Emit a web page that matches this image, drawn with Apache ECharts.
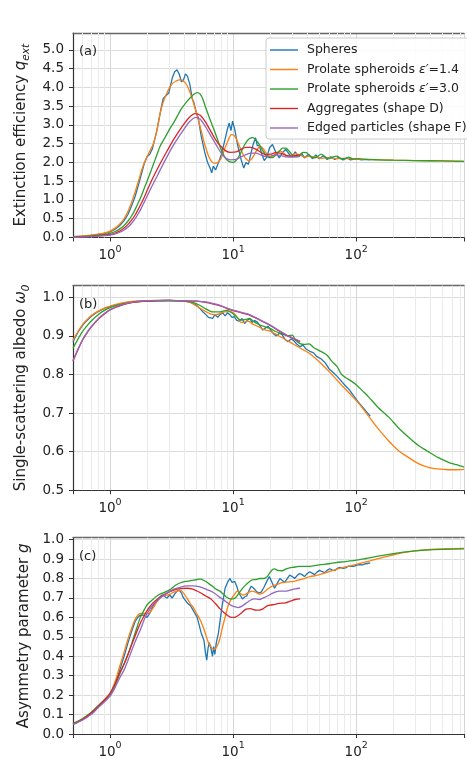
<!DOCTYPE html>
<html>
<head>
<meta charset="utf-8">
<script src="https://cdn.jsdelivr.net/npm/echarts@6/dist/echarts.min.js"></script>
<style>
  html, body { margin: 0; padding: 0; background: #fff; }
  #chart { width: 467px; height: 759px; }
</style>
</head>
<body>
<div id="chart"></div>
<script>
// series names / colours (matplotlib tab10)
const seriesNames = ['Spheres', 'Prolate spheroids ε′=1.4', 'Prolate spheroids ε′=3.0', 'Aggregates (shape D)', 'Edged particles (shape F)'];
const seriesColors = ['#1f77b4', '#ff7f0e', '#2ca02c', '#d62728', '#9467bd'];
const minorX = [0.6, 0.7, 0.8, 0.9, 2, 3, 4, 5, 6, 7, 8, 9, 20, 30, 40, 50, 60, 70, 80, 90, 200, 300, 400, 500, 600, 700];
const panelLetters = ['(a)', '(b)', '(c)'];

// (a) extinction efficiency
const qextSpheres = [[0.5,0.02],[0.6,0.035],[0.7,0.055],[0.8,0.08],[0.9,0.11],[1.0,0.15],[1.1,0.22],[1.2,0.32],[1.3,0.45],[1.4,0.62],[1.5,0.85],[1.6,1.1],[1.7,1.4],[1.8,1.7],[1.9,1.98],[2.0,2.15],[2.1,2.22],[2.2,2.35],[2.3,2.6],[2.4,2.85],[2.5,3.15],[2.6,3.45],[2.7,3.7],[2.8,3.76],[2.9,3.74],[3.0,3.85],[3.1,4.05],[3.2,4.25],[3.35,4.42],[3.5,4.47],[3.65,4.35],[3.8,4.15],[3.95,4.2],[4.1,4.36],[4.25,4.3],[4.45,4.08],[4.65,3.7],[4.8,3.6],[5.0,3.35],[5.2,3.2],[5.5,2.7],[5.9,2.25],[6.2,2.0],[6.5,1.85],[6.7,1.72],[6.9,1.9],[7.2,1.8],[7.6,2.0],[8.0,2.2],[8.5,2.55],[9.0,2.9],[9.3,3.05],[9.6,2.85],[9.9,3.1],[10.3,2.88],[10.9,2.45],[11.6,2.08],[12.2,1.85],[12.7,2.0],[13.3,1.95],[14.0,2.26],[14.6,2.5],[15.2,2.66],[15.7,2.45],[16.3,2.45],[17.2,2.2],[17.9,2.05],[18.8,2.15],[19.8,2.4],[20.9,2.48],[22.0,2.3],[23.7,2.12],[25.0,2.25],[26.8,2.35],[28.5,2.22],[30,2.15],[32,2.28],[34,2.15],[36,2.25],[38,2.12],[41,2.22],[44,2.1],[47,2.2],[50,2.1],[54,2.18],[58,2.08],[62,2.15],[67,2.08],[72,2.14],[78,2.07],[84,2.12],[90,2.07],[100,2.1],[110,2.07],[120,2.08],[130,2.07]];
const qextProlate14 = [[0.5,0.02],[0.6,0.04],[0.7,0.06],[0.8,0.09],[0.9,0.12],[1.0,0.17],[1.1,0.25],[1.2,0.36],[1.3,0.5],[1.4,0.7],[1.5,0.95],[1.6,1.22],[1.7,1.5],[1.8,1.78],[1.9,2.0],[2.0,2.15],[2.1,2.3],[2.25,2.5],[2.4,2.85],[2.55,3.3],[2.7,3.6],[2.85,3.8],[3.05,4.0],[3.25,4.12],[3.45,4.17],[3.65,4.2],[3.82,4.2],[4.0,4.15],[4.2,4.07],[4.4,3.92],[4.6,3.75],[4.8,3.55],[5.05,3.3],[5.3,3.05],[5.55,2.8],[5.8,2.55],[6.07,2.33],[6.35,2.15],[6.67,2.03],[7.0,1.98],[7.3,1.98],[7.6,2.02],[7.9,2.08],[8.3,2.25],[8.7,2.43],[9.2,2.62],[9.66,2.74],[10.1,2.73],[10.6,2.63],[11.1,2.48],[11.6,2.33],[12.1,2.2],[12.7,2.1],[13.3,2.05],[14.0,2.08],[14.7,2.18],[15.4,2.3],[16.1,2.4],[16.8,2.42],[17.6,2.36],[18.4,2.27],[19.3,2.18],[20.2,2.15],[21.5,2.2],[22.8,2.27],[24.2,2.3],[25.7,2.25],[27.5,2.17],[29.5,2.17],[32,2.23],[35,2.2],[38,2.14],[42,2.17],[47,2.14],[53,2.11],[60,2.13],[70,2.1],[80,2.11],[100,2.09],[130,2.08],[200,2.06],[300,2.05],[500,2.04],[751,2.03]];
const qextProlate30 = [[0.5,0.015],[0.6,0.025],[0.7,0.04],[0.8,0.06],[0.9,0.08],[1.0,0.11],[1.1,0.16],[1.2,0.23],[1.3,0.32],[1.4,0.44],[1.5,0.58],[1.6,0.75],[1.7,0.93],[1.8,1.12],[1.9,1.32],[2.0,1.5],[2.12,1.72],[2.25,1.95],[2.4,2.2],[2.55,2.43],[2.7,2.58],[2.9,2.76],[3.1,2.93],[3.3,3.07],[3.5,3.22],[3.75,3.4],[4.0,3.53],[4.2,3.62],[4.5,3.73],[4.8,3.82],[5.1,3.86],[5.4,3.82],[5.7,3.67],[6.0,3.45],[6.4,3.2],[6.9,2.92],[7.4,2.65],[7.8,2.43],[8.2,2.26],[8.7,2.1],[9.3,2.02],[10,2.0],[10.6,2.06],[11.3,2.2],[12.0,2.38],[12.7,2.53],[13.5,2.63],[14.4,2.66],[15.3,2.6],[16.3,2.48],[17.3,2.33],[18.4,2.2],[19.6,2.13],[20.9,2.13],[22.2,2.2],[23.7,2.3],[25.2,2.38],[26.8,2.38],[28.5,2.3],[30.3,2.2],[32.3,2.15],[34.5,2.18],[37,2.27],[39.5,2.26],[42,2.17],[45,2.12],[48,2.15],[52,2.22],[56,2.15],[60,2.1],[65,2.15],[70,2.17],[75,2.1],[81,2.1],[87,2.14],[95,2.09],[105,2.1],[120,2.08],[150,2.07],[200,2.06],[300,2.05],[500,2.04],[751,2.03]];
const qextAggregates = [[0.5,0.012],[0.6,0.02],[0.7,0.03],[0.8,0.045],[0.9,0.06],[1.0,0.08],[1.1,0.12],[1.2,0.17],[1.3,0.25],[1.4,0.35],[1.5,0.47],[1.6,0.6],[1.7,0.76],[1.8,0.92],[1.9,1.08],[2.0,1.25],[2.2,1.55],[2.4,1.8],[2.6,2.02],[2.9,2.3],[3.3,2.62],[3.9,2.98],[4.4,3.2],[4.9,3.3],[5.4,3.26],[5.9,3.1],[6.4,2.9],[6.9,2.71],[7.4,2.55],[8.0,2.42],[8.7,2.31],[9.5,2.27],[10.6,2.28],[11.6,2.35],[12.7,2.4],[13.9,2.4],[15.4,2.35],[16.8,2.27],[18.4,2.21],[20.2,2.22],[22,2.26],[24.2,2.25],[26.8,2.19],[30,2.17],[35,2.2]];
const qextEdged = [[0.5,0.01],[0.6,0.015],[0.7,0.025],[0.8,0.035],[0.9,0.05],[1.0,0.065],[1.1,0.095],[1.2,0.14],[1.3,0.2],[1.4,0.28],[1.5,0.38],[1.6,0.5],[1.7,0.64],[1.8,0.79],[1.9,0.95],[2.0,1.1],[2.2,1.38],[2.4,1.62],[2.6,1.85],[2.9,2.15],[3.3,2.48],[3.9,2.84],[4.4,3.08],[5.0,3.2],[5.4,3.15],[5.9,2.98],[6.4,2.78],[6.9,2.6],[7.4,2.43],[8.0,2.25],[8.7,2.12],[9.5,2.07],[10.6,2.08],[11.6,2.15],[12.7,2.21],[13.9,2.25],[15.4,2.25],[16.8,2.2],[18.4,2.16],[20.2,2.17],[22,2.2],[24.2,2.19],[26.8,2.15],[30,2.14],[35,2.16]];

// (b) single-scattering albedo
const albSpheres = [[0.5,0.885],[0.55,0.91],[0.6,0.928],[0.65,0.94],[0.7,0.95],[0.8,0.963],[0.9,0.971],[1.0,0.976],[1.2,0.983],[1.5,0.988],[2,0.991],[3,0.992],[4,0.99],[4.5,0.987],[5.0,0.98],[5.4,0.97],[5.7,0.962],[6.0,0.955],[6.3,0.948],[6.5,0.952],[6.8,0.945],[7.1,0.955],[7.5,0.948],[7.8,0.955],[8.2,0.96],[8.6,0.952],[9.0,0.96],[9.4,0.955],[9.8,0.948],[10.2,0.95],[10.7,0.94],[11.2,0.938],[11.8,0.945],[12.4,0.932],[13,0.94],[13.6,0.945],[14.3,0.935],[15,0.94],[15.8,0.935],[16.6,0.925],[17.4,0.915],[18.2,0.92],[19.2,0.925],[20.2,0.915],[21.3,0.905],[22.5,0.9],[23.7,0.907],[25,0.903],[26.5,0.89],[28,0.885],[29.5,0.892],[31,0.888],[33,0.878],[35,0.872],[37,0.876],[39,0.866],[42,0.86],[45,0.856],[48,0.846],[52,0.84],[56,0.83],[60,0.815],[65,0.805],[70,0.795],[76,0.782],[82,0.77],[88,0.76],[95,0.745],[103,0.73],[111,0.718],[120,0.705],[130,0.692]];
const albProlate14 = [[0.5,0.889],[0.55,0.912],[0.6,0.93],[0.65,0.942],[0.7,0.952],[0.8,0.964],[0.9,0.972],[1.0,0.977],[1.2,0.984],[1.5,0.989],[2,0.991],[3,0.992],[4,0.99],[4.5,0.987],[5.0,0.978],[5.7,0.967],[6.5,0.957],[7.2,0.955],[7.8,0.958],[8.5,0.962],[9.4,0.963],[10.2,0.958],[11,0.945],[11.5,0.935],[12.2,0.935],[13,0.938],[13.6,0.937],[14.5,0.93],[16.1,0.924],[17.5,0.917],[19.7,0.913],[22,0.905],[25,0.895],[28.5,0.885],[33,0.873],[37,0.864],[41.5,0.855],[50,0.833],[60,0.808],[70,0.785],[80,0.765],[90,0.748],[105,0.725],[126,0.692],[150,0.66],[183,0.628],[220,0.603],[265,0.585],[320,0.569],[385,0.559],[460,0.555],[557,0.553],[650,0.553],[751,0.554]];
const albProlate30 = [[0.5,0.868],[0.55,0.892],[0.6,0.912],[0.65,0.926],[0.7,0.938],[0.8,0.955],[0.9,0.966],[1.0,0.973],[1.2,0.981],[1.5,0.987],[2,0.99],[3,0.991],[4,0.99],[4.7,0.987],[5.3,0.98],[6.0,0.97],[6.8,0.962],[7.8,0.962],[8.8,0.966],[9.4,0.963],[10.2,0.955],[11,0.945],[11.5,0.941],[12.5,0.942],[13.6,0.945],[15,0.935],[16.1,0.93],[17.5,0.925],[19.7,0.92],[22,0.912],[25,0.905],[28,0.9],[30.3,0.902],[32,0.89],[35,0.88],[38,0.878],[41.5,0.879],[45,0.87],[52,0.859],[58,0.85],[63,0.835],[70,0.82],[76,0.8],[82,0.792],[92,0.782],[101,0.772],[112,0.758],[126,0.742],[150,0.715],[183,0.69],[220,0.662],[265,0.638],[320,0.616],[385,0.6],[460,0.585],[557,0.573],[650,0.566],[751,0.56]];
const albAggregates = [[0.5,0.835],[0.55,0.865],[0.6,0.89],[0.65,0.908],[0.7,0.922],[0.8,0.943],[0.9,0.957],[1.0,0.967],[1.2,0.978],[1.5,0.986],[2,0.99],[3,0.992],[4,0.991],[5,0.99],[6,0.987],[7,0.982],[8,0.977],[9.4,0.968],[11,0.962],[13.6,0.954],[16,0.943],[19.7,0.928],[23,0.915],[28.5,0.898],[35,0.885]];
const albEdged = [[0.5,0.836],[0.55,0.866],[0.6,0.891],[0.65,0.909],[0.7,0.923],[0.8,0.944],[0.9,0.958],[1.0,0.968],[1.2,0.979],[1.5,0.987],[2,0.991],[3,0.992],[4,0.991],[5,0.99],[6,0.988],[7,0.983],[8,0.978],[9.4,0.969],[11,0.963],[13.6,0.955],[16,0.944],[19.7,0.929],[23,0.916],[28.5,0.899],[35,0.886]];

// (c) asymmetry parameter
const gSpheres = [[0.5,0.05],[0.6,0.075],[0.7,0.105],[0.8,0.14],[0.9,0.17],[1.0,0.2],[1.1,0.26],[1.2,0.33],[1.3,0.4],[1.4,0.47],[1.5,0.53],[1.6,0.58],[1.7,0.605],[1.8,0.613],[1.9,0.61],[2.0,0.6],[2.1,0.62],[2.2,0.65],[2.35,0.68],[2.5,0.7],[2.65,0.715],[2.75,0.705],[2.9,0.7],[3.05,0.715],[3.2,0.7],[3.35,0.72],[3.5,0.735],[3.65,0.74],[3.8,0.725],[3.95,0.7],[4.1,0.69],[4.3,0.67],[4.5,0.66],[4.7,0.64],[4.9,0.62],[5.1,0.6],[5.3,0.56],[5.5,0.52],[5.65,0.5],[5.8,0.48],[5.95,0.42],[6.1,0.38],[6.25,0.44],[6.4,0.47],[6.6,0.44],[6.8,0.4],[6.95,0.45],[7.1,0.41],[7.3,0.47],[7.6,0.52],[7.9,0.6],[8.1,0.65],[8.4,0.71],[8.6,0.75],[9.0,0.78],[9.4,0.8],[9.8,0.78],[10.3,0.785],[10.7,0.76],[11.0,0.735],[11.5,0.71],[11.9,0.695],[12.4,0.705],[12.9,0.71],[13.4,0.735],[14.0,0.76],[14.7,0.75],[15.4,0.735],[16.1,0.725],[16.9,0.73],[17.8,0.755],[18.6,0.78],[19.7,0.81],[20.7,0.78],[21.7,0.75],[22.8,0.775],[24,0.8],[25.1,0.79],[26.2,0.78],[27.5,0.8],[28.8,0.818],[30.2,0.81],[31.6,0.8],[33.1,0.815],[34.7,0.826],[36.3,0.82],[38,0.81],[39.9,0.825],[41.8,0.835],[43.8,0.828],[45.9,0.82],[48,0.833],[50.5,0.842],[53,0.835],[55.5,0.83],[58,0.842],[61,0.85],[64,0.843],[67,0.84],[70,0.852],[74,0.857],[78,0.852],[82,0.855],[86,0.863],[90,0.862],[95,0.863],[100,0.868],[106,0.872],[112,0.87],[120,0.876],[130,0.88]];
const gProlate14 = [[0.5,0.05],[0.6,0.077],[0.7,0.108],[0.8,0.143],[0.9,0.175],[1.0,0.205],[1.1,0.27],[1.2,0.35],[1.3,0.42],[1.4,0.49],[1.5,0.545],[1.6,0.59],[1.7,0.615],[1.8,0.62],[1.9,0.62],[2.0,0.618],[2.1,0.625],[2.25,0.65],[2.4,0.68],[2.55,0.7],[2.7,0.71],[2.9,0.715],[3.1,0.72],[3.3,0.73],[3.5,0.735],[3.7,0.74],[3.9,0.73],[4.2,0.7],[4.5,0.67],[4.7,0.655],[5.0,0.625],[5.37,0.59],[5.7,0.55],[6.0,0.51],[6.3,0.47],[6.6,0.45],[6.9,0.435],[7.2,0.44],[7.5,0.46],[7.8,0.49],[8.2,0.55],[8.6,0.6],[9.0,0.65],[9.4,0.68],[9.8,0.7],[10.3,0.72],[10.8,0.735],[11.3,0.725],[12,0.715],[12.7,0.72],[13.5,0.73],[14.3,0.735],[15.2,0.73],[16.3,0.72],[17.4,0.725],[18.6,0.74],[20,0.755],[21.5,0.765],[23,0.77],[24.5,0.777],[26,0.78],[28.5,0.783],[31,0.785],[34.3,0.793],[38,0.8],[42,0.81],[47,0.815],[52,0.822],[60,0.835],[70,0.848],[80,0.858],[98,0.871],[120,0.885],[150,0.902],[190,0.918],[234,0.932],[300,0.942],[380,0.948],[500,0.952],[751,0.955]];
const gProlate30 = [[0.5,0.055],[0.6,0.08],[0.7,0.11],[0.8,0.145],[0.9,0.175],[1.0,0.205],[1.1,0.25],[1.2,0.31],[1.3,0.36],[1.4,0.41],[1.5,0.465],[1.6,0.52],[1.76,0.6],[1.9,0.64],[2.0,0.665],[2.2,0.69],[2.4,0.71],[2.55,0.72],[2.8,0.73],[3.1,0.745],[3.4,0.765],[3.7,0.777],[4.1,0.785],[4.6,0.79],[5.1,0.795],[5.4,0.797],[5.8,0.79],[6.3,0.775],[6.8,0.76],[7.3,0.745],[7.8,0.735],[8.3,0.72],[8.8,0.705],[9.4,0.695],[10,0.695],[10.6,0.705],[11.3,0.73],[12,0.752],[12.8,0.77],[13.6,0.785],[14.5,0.794],[15.4,0.795],[16.3,0.8],[17.6,0.8],[18.8,0.808],[19.7,0.826],[20.8,0.845],[21.7,0.85],[23,0.842],[25,0.84],[27,0.85],[28.8,0.855],[31,0.858],[34.3,0.862],[41,0.862],[50,0.87],[60,0.876],[75,0.885],[98,0.893],[120,0.903],[151,0.915],[190,0.925],[234,0.934],[300,0.942],[380,0.947],[500,0.95],[751,0.952]];
const gAggregates = [[0.5,0.05],[0.6,0.076],[0.7,0.107],[0.8,0.142],[0.9,0.175],[1.0,0.21],[1.1,0.26],[1.2,0.315],[1.3,0.36],[1.4,0.41],[1.5,0.46],[1.6,0.505],[1.76,0.57],[1.9,0.61],[2.0,0.635],[2.2,0.67],[2.55,0.705],[2.9,0.725],[3.3,0.74],[3.7,0.748],[4.2,0.75],[4.7,0.745],[5.37,0.728],[6.0,0.71],[6.6,0.695],[7.2,0.67],[7.8,0.645],[8.4,0.625],[9.0,0.61],[9.6,0.6],[10.3,0.6],[11,0.61],[11.8,0.625],[12.7,0.643],[13.8,0.645],[15,0.638],[16.3,0.637],[17.6,0.645],[19.1,0.66],[21,0.665],[23.7,0.672],[26.5,0.675],[29.5,0.685],[32,0.692],[35,0.695]];
const gEdged = [[0.5,0.048],[0.6,0.072],[0.7,0.1],[0.8,0.135],[0.9,0.165],[1.0,0.195],[1.1,0.24],[1.2,0.29],[1.3,0.33],[1.4,0.38],[1.5,0.43],[1.6,0.475],[1.76,0.535],[1.9,0.59],[2.0,0.62],[2.2,0.66],[2.55,0.7],[2.9,0.725],[3.3,0.745],[3.7,0.755],[4.2,0.762],[4.7,0.762],[5.37,0.757],[6.0,0.745],[6.6,0.735],[7.2,0.72],[7.8,0.703],[8.4,0.69],[9.0,0.675],[9.6,0.662],[10.3,0.655],[11,0.65],[11.8,0.658],[12.7,0.672],[13.8,0.688],[15,0.695],[16.3,0.692],[17.6,0.7],[19.1,0.71],[21,0.725],[23.7,0.735],[26.5,0.735],[29.5,0.742],[32,0.747],[35,0.75]];

const panels = [
  { data: [qextSpheres, qextProlate14, qextProlate30, qextAggregates, qextEdged], top: 33, min: 0, max: 5.45, interval: 0.5,
    name: '{t|Extinction efficiency }{i|q}{sub|ext}' },
  { data: [albSpheres, albProlate14, albProlate30, albAggregates, albEdged], top: 285.7, min: 0.5, max: 1.03, interval: 0.1,
    name: '{t|Single-scattering albedo }{i|ω}{sub|0}' },
  { data: [gSpheres, gProlate14, gProlate30, gAggregates, gEdged], top: 537.7, min: 0, max: 1.01, interval: 0.1,
    name: '{t|Asymmetry parameter }{i|g}' }
];

const FONT = 'DejaVu Sans';
const TXT = '#222';
const X_MIN = 0.5, X_MAX = 751;  // right side of the figure is cropped at ~750

let grids = [], xAxes = [], yAxes = [], series = [], graphics = [];

panels.forEach((p, i) => {
  grids.push({ left: 73, top: p.top, width: 394, height: 204.5 });
  xAxes.push({
    type: 'log', logBase: 10, gridIndex: i, min: X_MIN, max: X_MAX,
    axisLine: { lineStyle: { color: '#333', width: 1.2 } },
    axisTick: { length: 4, lineStyle: { color: '#333' } },
    splitLine: { show: true, lineStyle: { color: '#d6d6d6', width: 1 } },
    axisLabel: {
      margin: 7, color: TXT, fontFamily: FONT,
      formatter: v => {
        const e = Math.log10(v);
        if (Math.abs(e - Math.round(e)) > 1e-6 || Math.round(e) < 0) return '';
        return '{b|10}{s|' + Math.round(e) + '}';
      },
      rich: {
        b: { fontSize: 13.5, fontFamily: FONT, color: TXT, lineHeight: 18, verticalAlign: 'bottom' },
        s: { fontSize: 9.5, fontFamily: FONT, color: TXT, lineHeight: 9, verticalAlign: 'top' }
      }
    }
  });
  // top frame line of each panel
  xAxes.push({
    type: 'log', logBase: 10, gridIndex: i, min: X_MIN, max: X_MAX, position: 'top',
    axisLine: { show: true, lineStyle: { color: '#666', width: 1.4 } },
    axisTick: { show: false }, axisLabel: { show: false }, splitLine: { show: false }
  });
  yAxes.push({
    type: 'value', gridIndex: i, min: p.min, max: p.max, interval: p.interval,
    name: p.name, nameLocation: 'middle', nameGap: 36,
    nameTextStyle: {
      rich: {
        t: { fontSize: 15, fontFamily: FONT, color: TXT, lineHeight: 22 },
        i: { fontSize: 15, fontFamily: FONT, color: TXT, fontStyle: 'italic', lineHeight: 22 },
        sub: { fontSize: 10.5, fontFamily: FONT, color: TXT, fontStyle: 'italic', lineHeight: 11, verticalAlign: 'bottom' }
      }
    },
    axisLine: { show: true, lineStyle: { color: '#333', width: 1.2 } },
    axisTick: { show: true, length: 4, lineStyle: { color: '#333' } },
    splitLine: { show: true, lineStyle: { color: '#dcdcdc', width: 1 } },
    axisLabel: { margin: 9, fontSize: 13.5, color: TXT, fontFamily: FONT, showMaxLabel: false,
      formatter: v => v.toFixed(1) }
  });
  // minor x grid lines
  series.push({
    type: 'line', xAxisIndex: 2 * i, yAxisIndex: i, data: [], silent: true, z: 1,
    markLine: { silent: true, z: 1, symbol: 'none', label: { show: false }, animation: false,
      lineStyle: { color: '#ebebeb', width: 1, type: 'solid' },
      data: minorX.map(v => ({ xAxis: v })) }
  });
  p.data.forEach((d, k) => {
    series.push({
      name: seriesNames[k], type: 'line', xAxisIndex: 2 * i, yAxisIndex: i, data: d,
      showSymbol: false, symbol: 'none', smooth: k === 0 ? false : 0.25, z: 3 + k,
      lineStyle: { color: seriesColors[k], width: 1.3 }, itemStyle: { color: seriesColors[k] }
    });
  });
  graphics.push({ type: 'text', left: 79, top: p.top + 12, z: 10,
    style: { text: panelLetters[i], font: '13px "DejaVu Sans"', fill: TXT } });
});

const chart = echarts.init(document.getElementById('chart'), null, { renderer: 'canvas' });
chart.setOption({
  animation: false,
  backgroundColor: '#fff',
  grid: grids,
  xAxis: xAxes,
  yAxis: yAxes,
  series: series,
  graphic: graphics,
  legend: {
    data: seriesNames, orient: 'vertical', left: 266, top: 38,
    icon: 'path://M0,0M28,14M0,6.3H28V7.7H0Z',
    itemWidth: 28, itemHeight: 14, itemGap: 5.5,
    padding: [5, 40, 4, 4],
    backgroundColor: 'rgba(255,255,255,0.85)', borderColor: '#cccccc', borderWidth: 1, borderRadius: 3,
    textStyle: { fontSize: 12.5, fontFamily: FONT, color: TXT, padding: [0, 0, 0, 4],
      rich: { i: { fontSize: 12.5, fontFamily: FONT, color: TXT, fontStyle: 'italic' } } },
    formatter: n => n.replace('ε′', '{i|ε′}')
  }
});
</script>
</body>
</html>
